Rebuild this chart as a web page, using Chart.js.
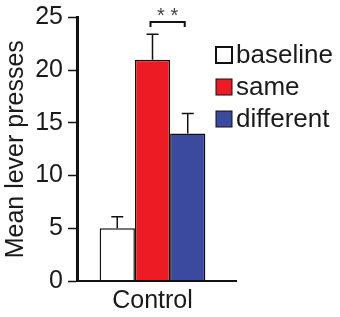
<!DOCTYPE html>
<html>
<head>
<meta charset="utf-8">
<script src="https://cdn.jsdelivr.net/npm/chart.js@4"></script>
<style>
  body { margin: 0; background: #fff; }
  #wrap { width: 340px; height: 317px; }
</style>
</head>
<body>
<div id="wrap"><canvas id="mycanvas" width="340" height="317"></canvas></div>
<script>
var groups = ['Control'];
var seriesNames = ['baseline', 'same', 'different'];
var means = [5, 21, 14];
var errors = [1.1, 2.4, 1.9];
var yTicks = [0, 5, 10, 15, 20, 25];
var colors = ['#ffffff', '#ed1c24', '#3b4a9f'];

var datasets = [];
for (var i = 0; i < seriesNames.length; i++) {
	datasets.push({
		label: seriesNames[i],
		data: [means[i]],
		err: [errors[i]],
		backgroundColor: colors[i],
		borderColor: '#111',
		borderWidth: 1.5,
		borderSkipped: 'bottom'
	});
}

var FONT = '"Liberation Sans", Arial, sans-serif';

// error bars, significance bracket, axis line and legend
var extras = {
	id: 'extras',
	afterDatasetsDraw: function(chart) {
		var ctx = chart.ctx;
		var y = chart.scales.y;
		var area = chart.chartArea;
		ctx.save();
		ctx.strokeStyle = '#111';
		ctx.lineWidth = 1.5;
		var centers = [];
		chart.data.datasets.forEach(function(ds, i) {
			var bar = chart.getDatasetMeta(i).data[0];
			centers.push(bar.x);
			var top = y.getPixelForValue(ds.data[0]);
			var hi = y.getPixelForValue(ds.data[0] + ds.err[0]);
			ctx.beginPath();
			ctx.moveTo(bar.x, top);
			ctx.lineTo(bar.x, hi);
			ctx.moveTo(bar.x - 6, hi);
			ctx.lineTo(bar.x + 6, hi);
			ctx.stroke();
		});

		// bracket between same and different
		var bx1 = centers[1] - 2, bx2 = centers[2] - 3, by = 22;
		ctx.lineWidth = 2;
		ctx.beginPath();
		ctx.moveTo(bx1, by + 5);
		ctx.lineTo(bx1, by);
		ctx.lineTo(bx2, by);
		ctx.lineTo(bx2, by + 5);
		ctx.stroke();
		ctx.fillStyle = '#444';
		ctx.font = '20px ' + FONT;
		ctx.textAlign = 'center';
		ctx.textBaseline = 'middle';
		ctx.fillText('* *', (bx1 + bx2) / 2, 16);

		// x axis line
		ctx.lineWidth = 2;
		ctx.beginPath();
		ctx.moveTo(area.left, area.bottom);
		ctx.lineTo(237, area.bottom);
		ctx.stroke();

		// legend
		ctx.font = '26px ' + FONT;
		ctx.textAlign = 'left';
		chart.data.datasets.forEach(function(ds, i) {
			var ly = 55 + i * 32;
			ctx.fillStyle = ds.backgroundColor;
			ctx.fillRect(216, ly - 8, 16, 16);
			ctx.lineWidth = i === 0 ? 2 : 1;
			ctx.strokeStyle = '#111';
			ctx.strokeRect(216, ly - 8, 16, 16);
			ctx.fillStyle = '#1a1a1a';
			ctx.fillText(ds.label, 236, ly + 1);
		});
		ctx.restore();
	}
};

var barGraph = new Chart(document.getElementById('mycanvas'), {
	type: 'bar',
	data: { labels: groups, datasets: datasets },
	options: {
		responsive: false,
		animation: false,
		layout: { padding: { top: 16, right: 112, left: 0, bottom: 0 } },
		plugins: { legend: { display: false }, tooltip: { enabled: false } },
		datasets: { bar: { categoryPercentage: 0.7, barPercentage: 1.0 } },
		scales: {
			x: {
				grid: { display: false, drawTicks: false },
				border: { display: false },
				ticks: { color: '#1a1a1a', font: { family: FONT, size: 25 }, padding: 5 },
				afterFit: function(s) { s.height = 36; }
			},
			y: {
				min: 0,
				max: 25,
				afterBuildTicks: function(s) { s.ticks = yTicks.map(function(v) { return { value: v }; }); },
				grid: { display: true, drawOnChartArea: false, drawTicks: true, tickLength: 9, tickWidth: 1.5, tickColor: '#111' },
				border: { display: true, color: '#111', width: 3 },
				ticks: { color: '#1a1a1a', font: { family: FONT, size: 25, lineHeight: 1.0 }, padding: 5 },
				title: { display: true, text: 'Mean lever presses', color: '#1a1a1a', font: { family: FONT, size: 25 }, padding: 1 },
				afterFit: function(s) { s.width = 77; }
			}
		}
	},
	plugins: [extras]
});
</script>
</body>
</html>
